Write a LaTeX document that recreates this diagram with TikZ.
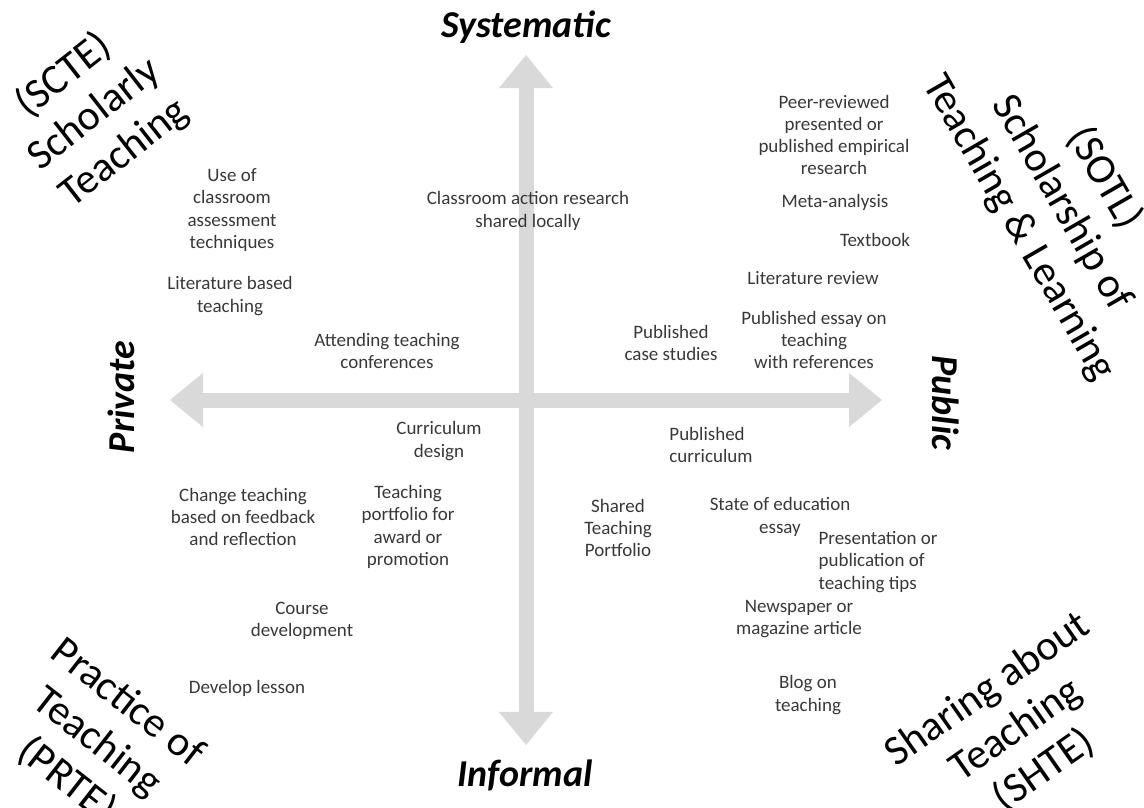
\documentclass[tikz,border=0pt]{standalone}
\usepackage{fontspec}
\setmainfont{Carlito}
\usetikzlibrary{positioning,arrows.meta}

\begin{document}
\begin{tikzpicture}[x=0.025cm,y=-0.025cm,
		item/.style={text=black!78,font=\fontsize{13.5}{15.8}\selectfont,align=center,inner sep=1pt},
		axislabel/.style={font=\fontsize{27}{30}\selectfont\bfseries\itshape,inner sep=0pt},
		corner/.style={font=\fontsize{30}{35}\selectfont,align=center,inner sep=0pt},
		axis/.style={draw=black!15,line width=0.375cm,{Triangle[length=0.825cm,width=1.35cm,line width=0pt]}-{Triangle[length=0.825cm,width=1.35cm,line width=0pt]}}]
		\useasboundingbox (0,0) rectangle (1144,808);
		
		\coordinate (sys) at (526,55);
		\coordinate (inf) at (526,745);
		\coordinate (priv) at (170,400);
		\coordinate (pub) at (882,400);
		\draw[axis] (inf)--(sys);
		\draw[axis] (priv)--(pub);
		
		\node[axislabel,anchor=base] (systematic) at (526,38) {Systematic};
		\node[axislabel,anchor=base] (informal) at (525,786) {Informal};
		\node[axislabel,anchor=base,rotate=90] (private) at (134,397) {Private};
		\node[axislabel,anchor=base,rotate=-90] (public) at (932,403) {Public};
		
		\node[corner,rotate=38] (scte) at (94,114) {(SCTE)\\Scholarly\\Teaching};
		\node[corner,rotate=-60] (sotl) at (1062,203) {(SOTL)\\Scholarship of\\Teaching \& Learning};
		\node[corner,rotate=-38] (prte) at (97,742) {Practice of\\Teaching\\(PRTE)};
		\node[corner,rotate=35] (shte) at (1016,730) {Sharing about\\Teaching\\(SHTE)};
		
		% upper left
		\node[item] (cat) at (232,210) {Use of\\classroom\\assessment\\techniques};
		\node[item] (litteach) at (230,296) {Literature based\\teaching};
		\node[item] (confs) at (387,351) {Attending teaching\\conferences};
		\node[item] (action) at (528,211) {Classroom action research\\shared locally};
		
		% upper right
		\node[item] (peer) at (834,135) {Peer-reviewed\\presented or\\published empirical\\research};
		\node[item] (meta) at (835,202) {Meta-analysis};
		\node[item] (textbook) at (875,240) {Textbook};
		\node[item] (litrev) at (813,278) {Literature review};
		\node[item] (essay) at (814,340) {Published essay on\\teaching\\with references};
		\node[item] (cases) at (671,343) {Published\\case studies};
		
		% lower left
		\node[item] (curdesign) at (439,441) {Curriculum\\design};
		\node[item] (change) at (243,517) {Change teaching\\based on feedback\\and reflection};
		\node[item] (portfolio) at (408,527) {Teaching\\portfolio for\\award or\\promotion};
		\node[item] (course) at (302,621) {Course\\development};
		\node[item] (lesson) at (247,688) {Develop lesson};
		
		% lower right
		\node[item,align=left] (pubcur) at (711,445) {Published\\curriculum};
		\node[item] (shared) at (618,528) {Shared\\Teaching\\Portfolio};
		\node[item] (state) at (780,517) {State of education\\essay};
		\node[item,align=left] (tips) at (878,562) {Presentation or\\publication of\\teaching tips};
		\node[item] (news) at (799,619) {Newspaper or\\magazine article};
		\node[item] (blog) at (808,695) {Blog on\\teaching};
	\end{tikzpicture}
\end{document}
